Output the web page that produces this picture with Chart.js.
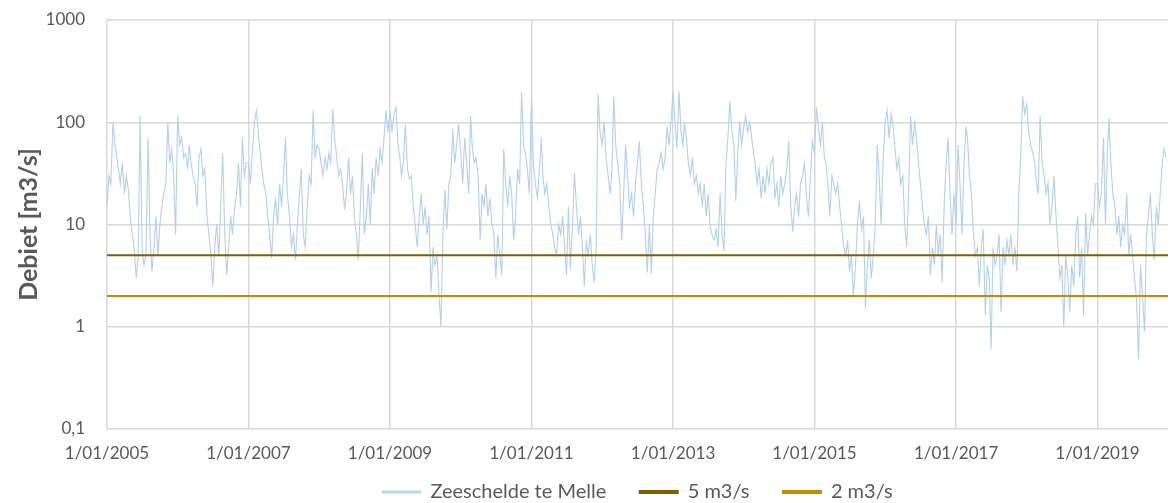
<!DOCTYPE html>
<html>
<head>
<meta charset="utf-8">
<script src="https://cdn.jsdelivr.net/npm/chart.js@4/dist/chart.umd.min.js"></script>
<style>
  html, body { margin: 0; padding: 0; background: #fff; }
  #wrap { width: 1173px; height: 503px; }
</style>
</head>
<body>
<div id="wrap"><canvas id="debiet"></canvas></div>
<script>
const q2005 = [15,30,25, 100,60,45, 35,25,40, 20,30,22, 12,8,6, 3,5,115, 6,4,5, 70,8,3.5, 6,12,5, 10,15,20, 25,100,40, 55,30,8];
const q2006 = [115,60,70, 45,50,35, 60,40,30, 25,15,45, 55,30,35, 12,8,5, 2.5,6,10, 5,15,50, 8,3.2,6, 12,8,14, 20,40,15, 70,30,40];
const q2007 = [40,25,50, 100,130,80, 55,35,25, 20,12,8, 4.7,12,18, 10,25,15, 30,70,20, 12,6,8, 4.5,10,20, 35,8,6, 15,30,25, 130,45,60];
const q2008 = [55,40,30, 45,35,50, 40,135,70, 45,30,35, 25,14,20, 45,20,30, 12,8,4.5, 15,50,8, 12,25,10, 35,20,45, 30,55,40, 70,130,80];
const q2009 = [130,80,120, 140,60,45, 30,40,95, 35,28,30, 15,10,6, 12,20,10, 15,8,12, 2.2,6,4, 5,2,1.0, 8,22,9, 25,30,85, 40,60,95];
const q2010 = [50,25,70, 40,20,115, 60,40,45, 30,7,20, 15,25,12, 18,10,8, 3,8,5, 3.2,55,25, 15,30,20, 7,12,35, 25,200,60, 50,35,20];
const q2011 = [160,40,25, 18,35,70, 30,20,25, 15,10,8, 6,5,10, 8,12,6, 3.2,15,3.7, 10,32,15, 8,12,6, 2.5,7,5, 8,4,2.7, 6,190,80];
const q2012 = [60,100,45, 30,20,35, 180,60,40, 25,7,20, 60,30,15, 20,12,25, 40,65,25, 15,8,3.4, 10,3.3,12, 20,35,40, 50,35,45, 90,60,100];
const q2013 = [200,100,55, 200,80,60, 100,70,40, 30,45,25, 30,20,25, 15,25,12, 20,10,8, 7,9,6, 20,8,5.5, 40,70,160, 80,60,17, 50,100,60];
const q2014 = [90,115,80, 100,70,50, 40,25,35, 18,30,20, 35,25,40, 45,18,25, 15,30,20, 25,35,65, 15,8.5,15, 20,12,25, 30,40,18, 12,30,65];
const q2015 = [50,140,90, 60,100,45, 40,25,12, 30,25,20, 25,15,10, 6,5,7, 3.5,5,2, 4,10,17, 9,12,1.5, 4,7,3, 5,10,60, 30,10,40];
const q2016 = [100,130,70, 120,90,55, 35,45,25, 30,10,6, 20,115,60, 100,70,40, 25,15,10, 8,12,3.2, 6,4,10, 5,8,2.7, 17,40,70, 20,8,20];
const q2017 = [10,60,25, 8,40,90, 70,30,20, 8,5,6, 2.5,6,9, 1.3,4,3, 0.6,6,4, 5,8,1.4, 6,4,7, 5,8,4, 6,3.5,20, 50,180,120];
const q2018 = [150,80,60, 50,40,25, 20,115,40, 30,20,25, 10,15,30, 12,6,3, 4,1.0,5, 3,1.4,4, 2.5,8,12, 3,6,1.3, 13,5,8, 12,10,25];
const q2019 = [25,15,20, 70,10,50, 110,40,20, 15,8,12, 6,10,8, 20,5,8, 5,3,1.9, 0.48,4,2, 0.9,8,12, 20,8,4.5, 15,10,20, 40,55,45];

const years = [2005,2006,2007,2008,2009,2010,2011,2012,2013,2014,2015,2016,2017,2018,2019];
const series = [q2005,q2006,q2007,q2008,q2009,q2010,q2011,q2012,q2013,q2014,q2015,q2016,q2017,q2018,q2019];
const sampleDays = [1, 11, 21];

const thresholds = [5, 2];
const thresholdNames = ['5 m3/s', '2 m3/s'];
const xTickYears = [2005,2007,2009,2011,2013,2015,2017,2019];
const yTickValues = [0.1, 1, 10, 100, 1000];
const yTickLabels = ['0,1', '1', '10', '100', '1000'];

const t0 = Date.UTC(2005, 0, 1);
function dayNr(y, m, d) {
	return (Date.UTC(y, m, d) - t0) / 864e5;
}

const melle = [];
years.forEach(function (y, k) {
	series[k].forEach(function (v, i) {
		melle.push({x: dayNr(y, Math.floor(i / 3), sampleDays[i % 3]), y: v});
	});
});
const xEnd = dayNr(2019, 11, 31);

function flatLine(v) {
	return [{x: 0, y: v}, {x: xEnd, y: v}];
}

const grey = '#595959';
const gridGrey = '#d9d9d9';
const font = 'Lato, "Open Sans", sans-serif';

new Chart(document.getElementById('debiet'), {
	type: 'line',
	data: {
		datasets: [{
			label: 'Zeeschelde te Melle',
			data: melle,
			borderColor: '#b4d0ec',
			backgroundColor: '#c9ddf1',
			borderWidth: 1.1,
			pointRadius: 0,
			order: 2
		}, {
			label: thresholdNames[0],
			data: flatLine(thresholds[0]),
			borderColor: '#7f6000',
			backgroundColor: '#7f6000',
			borderWidth: 2,
			pointRadius: 0,
			order: 0
		}, {
			label: thresholdNames[1],
			data: flatLine(thresholds[1]),
			borderColor: '#bf9000',
			backgroundColor: '#bf9000',
			borderWidth: 2,
			pointRadius: 0,
			order: 1
		}]
	},
	options: {
		responsive: true,
		maintainAspectRatio: false,
		animation: false,
		layout: {padding: {top: 20, right: 5, left: 0, bottom: -9}},
		plugins: {
			tooltip: {enabled: false},
			legend: {
				position: 'bottom',
				fullSize: false,
				labels: {
					color: grey,
					font: {family: font, size: 20},
					boxWidth: 38,
					boxHeight: 2,
					padding: 13,
					sort: function (a, b) { return a.datasetIndex - b.datasetIndex; },
					generateLabels: function (chart) {
						// extra room after the first two entries, like the original legend
						const items = Chart.defaults.plugins.legend.labels.generateLabels(chart);
						items.forEach(function (it) {
							if (it.datasetIndex < 2) it.text += '\u00a0\u00a0\u00a0\u00a0';
						});
						return items;
					}
				}
			}
		},
		scales: {
			x: {
				type: 'linear',
				min: 0,
				max: xEnd,
				afterBuildTicks: function (scale) {
					scale.ticks = xTickYears.map(function (y) { return {value: dayNr(y, 0, 1)}; });
				},
				afterFit: function (scale) { scale.height = 40; },
				ticks: {
					color: grey,
					font: {family: font, size: 17},
					maxRotation: 0,
					autoSkip: false,
					padding: 14,
					callback: function (v, i) { return '1/01/' + xTickYears[i]; }
				},
				grid: {color: gridGrey, lineWidth: 1.5, drawTicks: false},
				border: {display: false}
			},
			y: {
				type: 'logarithmic',
				min: 0.1,
				max: 1000,
				afterBuildTicks: function (scale) {
					scale.ticks = yTickValues.map(function (v) { return {value: v}; });
				},
				afterFit: function (scale) {
					scale.width = 107;
					scale.paddingTop = 0;
					scale.paddingBottom = 0;
				},
				ticks: {
					color: grey,
					font: {family: font, size: 17},
					padding: 22,
					callback: function (v, i) { return yTickLabels[i]; }
				},
				grid: {color: gridGrey, lineWidth: 1.5, drawTicks: false},
				border: {display: false},
				title: {
					display: true,
					text: 'Debiet [m3/s]',
					color: grey,
					font: {family: font, size: 25, weight: 'bold'},
					padding: {top: 14, bottom: 0}
				}
			}
		}
	}
});
</script>
</body>
</html>
